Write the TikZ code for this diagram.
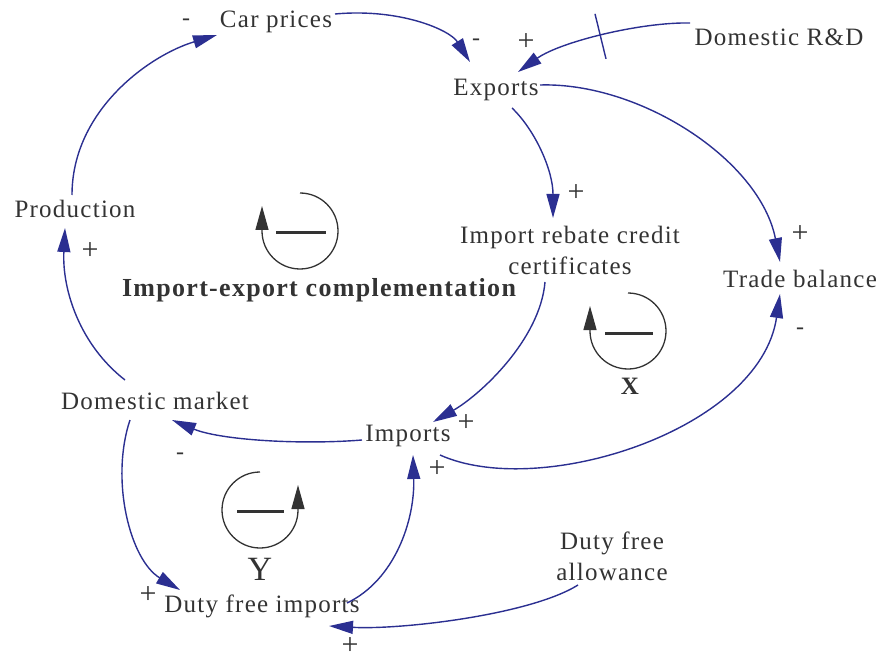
\documentclass[tikz,border=0pt]{standalone}
\usepackage{fontspec}
\setmainfont{Liberation Serif}[LetterSpace=5]
\usetikzlibrary{arrows.meta}
\definecolor{lnkc}{HTML}{2B2F91}
\definecolor{txtc}{HTML}{333333}
\begin{document}
\begin{tikzpicture}[x=1pt,y=-1pt,
  var/.style={text=txtc, font=\fontsize{25}{31}\selectfont, inner sep=0pt, align=center},
  pol/.style={text=txtc, font=\fontsize{24}{24}\selectfont, inner sep=0pt, text height=12pt, text depth=0pt},
  polp/.style={text=txtc, font=\fontsize{30}{30}\selectfont, inner sep=0pt, text height=15pt, text depth=0pt},
  cld/.style={draw=lnkc, line width=1.4pt, -{Triangle[length=24pt,width=13pt]}},
  lsym/.style={draw=txtc, line width=1.3pt, -{Triangle[length=24pt,width=13pt]}},
  bar/.style={draw=txtc, line width=3pt}]
\useasboundingbox (0,0) rectangle (880,660);
% variables
\node[var] (cp) at (276,22) {Car prices};
\node[var] (ex) at (496,90) {Exports};
\node[var] (rd) at (779,37) {Domestic R\&D};
\node[var] (pr) at (75,209) {Production};
\node[var] (irc) at (570,250) {Import rebate credit\\certificates};
\node[var] (tb) at (800,279) {Trade balance};
\node[var] (dm) at (155,401) {Domestic market};
\node[var] (im) at (408,436) {Imports};
\node[var] (dfi) at (262,606) {Duty free imports};
\node[var] (dfa) at (612,556) {Duty free\\allowance};
\node[var, font=\fontsize{26}{31}\selectfont\bfseries] (lt) at (319,290) {Import-export complementation};
\node[var, font=\fontsize{25}{31}\selectfont\bfseries] (lx) at (630,386) {X};
\node[var, font=\fontsize{34}{34}\selectfont] (ly) at (260,569) {Y};
% links
\draw[cld] ([shift={(-3,-14)}]pr.center) .. controls +(0,-85) and +(-67,20) .. ([shift={(-59,13)}]cp.center);
\draw[cld] ([shift={(59,-8)}]cp.center) .. controls +(65,-6) and +(-20,-32) .. ([shift={(-26,-28)}]ex.center);
\draw[cld] ([shift={(-89,-14)}]rd.center) .. controls +(-50,-1) and +(42,-30) .. ([shift={(22,-18)}]ex.center) coordinate[pos=0.5] (dly);
\draw[draw=lnkc, line width=1.4pt] ([shift={(-6,-22)}]dly) -- ([shift={(5,23)}]dly);
\draw[cld] ([shift={(44,-5)}]ex.center) .. controls +(100,-3) and +(-20,-102) .. ([shift={(-20,-17)}]tb.center);
\draw[cld] ([shift={(16,18)}]ex.center) .. controls +(23,22) and +(0,-48) .. ([shift={(-17,-32)}]irc.center);
\draw[cld] ([shift={(-25,32)}]irc.center) .. controls +(-5,58) and +(47,-27) .. ([shift={(25,-14)}]im.center);
\draw[cld] ([shift={(32,19)}]im.center) .. controls +(100,45) and +(-20,136) .. ([shift={(-20,15)}]tb.center);
\draw[cld] ([shift={(-46,4)}]im.center) .. controls +(-62,5) and +(48,20) .. ([shift={(17,19)}]dm.center);
\draw[cld] ([shift={(-30,-21)}]dm.center) .. controls +(-45,-35) and +(-3,62) .. ([shift={(-10,19)}]pr.center);
\draw[cld] ([shift={(-25,19)}]dm.center) .. controls +(-20,60) and +(-50,-30) .. ([shift={(-82,-16)}]dfi.center);
\draw[cld] ([shift={(85,-3)}]dfi.center) .. controls +(48,-23) and +(2,65) .. ([shift={(5,19)}]im.center);
\draw[cld] ([shift={(-34,29)}]dfa.center) .. controls +(-48,30) and +(71,4) .. ([shift={(67,20)}]dfi.center);
% polarities
\node[pol] (p1) at (186,20) {-};
\node[pol] (p2) at (476,40) {-};
\node[polp] (p3) at (526,43) {+};
\node[polp] (p4) at (800,235) {+};
\node[polp] (p5) at (576,194) {+};
\node[polp] (p6) at (466,424) {+};
\node[pol] (p7) at (800,328) {-};
\node[pol] (p8) at (180,453) {-};
\node[polp] (p9) at (90,252) {+};
\node[polp] (p10) at (148,596) {+};
\node[polp] (p11) at (437,470) {+};
\node[polp] (p12) at (350,647) {+};
% loop symbols
\draw[lsym] (300,193) arc[start angle=-90, end angle=180, radius=38] -- ++(0,-25);
\draw[bar] (276,233) -- (326,233);
\draw[lsym] (628,293) arc[start angle=-90, end angle=180, radius=38] -- ++(0,-25);
\draw[bar] (605,333) -- (653,333);
\draw[lsym] (260,472) arc[start angle=-90, end angle=-360, radius=38] -- ++(0,-25);
\draw[bar] (237,511) -- (284,511);
\end{tikzpicture}
\end{document}
